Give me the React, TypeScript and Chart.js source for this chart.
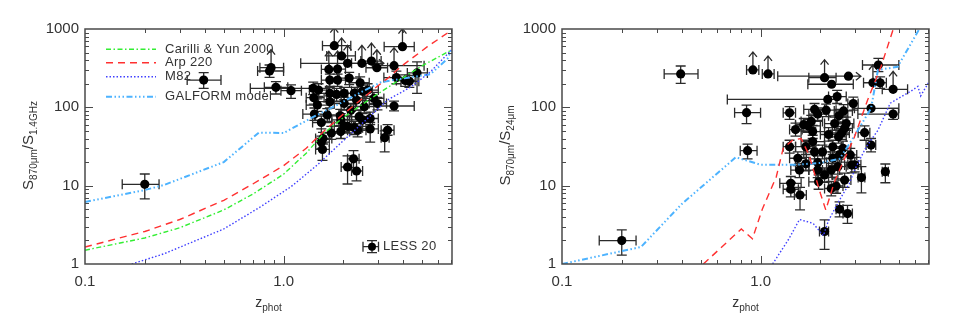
import React, { useEffect, useRef } from 'react';
import { Chart, registerables } from 'chart.js';

Chart.register(...registerables);

type XY = [number, number];
// [z, zLow, zHigh, ratio, ratioLow, ratioHigh]
type Pt = [number, number, number, number, number, number];

const FONT = '"Liberation Sans", Arial, Helvetica, sans-serif';
const INK = '#333333';

const X_MIN = 0.1;
const X_MAX = 7.05;
const Y_MIN = 1;
const Y_MAX = 1000;

// ---------- model tracks: S870/S1.4GHz ----------
const carilliRadio: XY[] = [
  [0.1, 1.5], [0.2, 2.15], [0.3, 2.9], [0.5, 4.9], [0.7, 7.8], [1.0, 14], [1.3, 26],
  [1.6, 47], [2.0, 74], [2.5, 110], [3.0, 150], [4.0, 240], [5.0, 340], [7.0, 540],
];
const arpRadio: XY[] = [
  [0.1, 1.65], [0.2, 2.6], [0.3, 3.7], [0.5, 6.5], [0.7, 10.5], [1.0, 18], [1.3, 30],
  [1.6, 50], [2.0, 82], [2.5, 130], [3.0, 190], [3.34, 234], [3.9, 331], [5.3, 595], [7.0, 960],
];
const m82Radio: XY[] = [
  [0.172, 1.0], [0.25, 1.35], [0.5, 2.8], [0.75, 5.2], [1.09, 9.7], [1.48, 18.4],
  [1.94, 35], [2.45, 60], [3.34, 124], [4.4, 184], [5.5, 285], [7.0, 540],
];
const galformRadio: XY[] = [
  [0.1, 6.2], [0.2, 8.8], [0.25, 10.2], [0.5, 20], [0.75, 47.5], [1.0, 47], [1.42, 76],
  [2.0, 118], [2.5, 160], [3.1, 210], [4.5, 245], [5.5, 265], [6.7, 420], [7.0, 540],
];

// ---------- model tracks: S870/S24 ----------
const arpMips: XY[] = [
  [0.515, 1.0], [0.8, 2.8], [0.91, 2.1], [1.02, 5], [1.2, 13], [1.3, 30], [1.45, 38],
  [1.6, 40], [1.75, 25], [2.0, 8], [2.13, 4.9], [2.35, 11], [2.6, 20], [2.95, 40],
  [3.46, 124], [4.04, 330], [4.7, 1070],
];
const m82Mips: XY[] = [
  [1.15, 1.0], [1.39, 2.1], [1.57, 3.7], [1.84, 3.3], [2.07, 2.3], [2.2, 3.6], [2.55, 7.2],
  [2.8, 10.7], [3.0, 16.6], [3.4, 31], [3.9, 51], [4.5, 113], [5.7, 160], [6.2, 185],
  [6.4, 140], [7.0, 205],
];
const galformMips: XY[] = [
  [0.1, 1.0], [0.25, 1.65], [0.4, 5.8], [0.75, 23], [0.85, 21], [1.0, 18.5], [1.5, 18.5],
  [2.0, 19.5], [2.5, 22], [2.95, 42], [3.6, 97], [3.9, 300], [4.9, 330], [6.4, 1070],
];

// ---------- LESS sources: S870/S1.4GHz ----------
const radioPts: Pt[] = [
  [0.20, 0.154, 0.236, 10.4, 6.8, 14.1],
  [0.396, 0.327, 0.484, 223, 175, 277],
  [0.85, 0.74, 1.0, 291, 241, 347],
  [0.865, 0.76, 1.0, 321, 321, 321],
  [0.915, 0.80, 1.05, 180, 148, 213],
  [1.09, 0.97, 1.23, 163, 130, 193],
  [1.80, 1.57, 2.18, 613, 613, 613],
  [3.97, 3.21, 4.55, 595, 595, 595],
  [1.96, 1.65, 2.3, 453, 453, 453],
  [2.1, 1.22, 3.2, 365, 365, 365],
  [2.48, 2.2, 2.8, 365, 365, 365],
  [2.77, 2.45, 3.1, 390, 390, 390],
  [2.95, 2.6, 3.34, 320, 320, 320],
  [3.6, 2.97, 5.1, 340, 340, 340],
  [1.69, 1.55, 1.85, 305, 305, 305],
  [1.87, 1.7, 2.05, 308, 308, 308],
  [1.71, 1.55, 1.9, 223, 185, 265],
  [1.87, 1.7, 2.05, 223, 185, 265],
  [2.14, 1.9, 2.4, 236, 195, 280],
  [2.43, 2.15, 2.7, 206, 170, 245],
  [4.7, 4.2, 5.3, 275, 151, 380],
  [4.1, 3.7, 4.6, 220, 185, 260],
  [4.3, 3.9, 4.8, 215, 180, 255],
  [3.7, 3.2, 4.3, 240, 200, 290],
  [1.41, 0.68, 1.7, 175, 145, 210],
  [1.5, 1.35, 1.65, 166, 138, 200],
  [1.42, 1.3, 1.6, 133, 110, 160],
  [1.71, 1.5, 1.95, 151, 125, 180],
  [1.85, 1.65, 2.1, 146, 120, 175],
  [2.02, 1.8, 2.3, 151, 125, 180],
  [2.27, 2.0, 2.55, 151, 125, 180],
  [2.5, 2.2, 2.8, 160, 132, 192],
  [2.65, 2.35, 3.0, 166, 138, 200],
  [1.71, 1.5, 1.95, 118, 98, 140],
  [3.6, 2.97, 4.55, 104, 90, 120],
  [2.97, 2.7, 3.3, 112, 93, 134],
  [2.85, 2.5, 3.2, 130, 108, 155],
  [1.43, 1.25, 1.65, 82, 68, 98],
  [1.66, 1.45, 1.9, 80, 66, 96],
  [1.93, 1.7, 2.2, 78, 64, 94],
  [2.4, 2.1, 2.7, 76, 62, 92],
  [2.5, 2.2, 2.8, 69, 57, 83],
  [2.73, 2.4, 3.0, 72, 60, 87],
  [1.55, 1.4, 1.75, 64, 53, 77],
  [2.02, 1.8, 2.25, 58, 48, 70],
  [2.1, 1.9, 2.3, 57, 47, 69],
  [2.27, 2.0, 2.5, 55, 45, 66],
  [2.36, 2.1, 2.6, 51, 42, 62],
  [2.73, 2.45, 3.0, 53, 36, 64],
  [3.34, 3.1, 3.6, 51, 44, 60],
  [3.23, 3.1, 3.4, 41, 27, 50],
  [1.74, 1.55, 1.95, 47, 39, 57],
  [1.94, 1.75, 2.15, 49, 40, 59],
  [1.58, 1.45, 1.75, 40, 34, 48],
  [1.55, 1.45, 1.7, 36, 30, 43],
  [1.57, 1.45, 1.7, 29, 21, 35],
  [2.25, 2.1, 2.4, 22, 17, 28],
  [2.1, 1.95, 2.2, 17.3, 10.5, 24],
  [2.33, 2.2, 2.5, 15.4, 11.5, 21],
  [1.94, 1.75, 2.15, 69, 57, 83],
  [2.18, 1.95, 2.45, 92, 76, 110],
  [2.33, 2.1, 2.6, 124, 103, 148],
  [2.55, 2.3, 2.85, 102, 85, 122],
  [2.02, 1.8, 2.25, 112, 93, 134],
  [1.48, 1.3, 1.7, 107, 89, 128],
];
const radioUp = [3, 6, 7, 8, 9, 10, 11, 12, 13, 14, 15];
const radioRight = [9];

// ---------- LESS sources: S870/S24 ----------
const mipsPts: Pt[] = [
  [0.20, 0.154, 0.236, 1.99, 1.30, 2.72],
  [0.396, 0.327, 0.484, 267, 202, 337],
  [0.915, 0.85, 0.98, 300, 300, 300],
  [1.09, 1.02, 1.17, 267, 267, 267],
  [0.85, 0.74, 1.0, 85.5, 62, 107],
  [0.86, 0.79, 0.96, 28, 22, 34],
  [2.1, 1.75, 2.4, 239, 239, 239],
  [2.77, 1.22, 3.2, 250, 250, 250],
  [2.28, 1.73, 2.93, 197, 197, 197],
  [3.92, 3.26, 4.97, 347, 285, 422],
  [3.68, 3.3, 4.0, 206, 206, 206],
  [4.0, 3.7, 4.3, 206, 175, 245],
  [4.65, 4.1, 5.5, 170, 170, 170],
  [4.65, 3.09, 4.95, 82, 70, 97],
  [3.6, 2.97, 4.97, 97, 97, 97],
  [3.6, 3.4, 3.8, 33, 27, 40],
  [4.25, 4.1, 4.4, 15.1, 10.9, 18.9],
  [3.34, 3.1, 3.55, 47.5, 38, 58],
  [3.22, 3.1, 3.35, 12.7, 8.1, 17.5],
  [2.93, 2.75, 3.1, 112, 92, 135],
  [2.43, 2.2, 2.7, 137, 112, 165],
  [2.18, 0.68, 2.4, 126, 126, 126],
  [2.14, 1.9, 2.4, 92, 76, 110],
  [1.87, 1.65, 2.1, 94, 78, 112],
  [1.94, 1.75, 2.2, 82, 68, 98],
  [2.62, 2.35, 2.9, 90, 75, 108],
  [2.48, 2.2, 2.75, 78, 64, 94],
  [2.36, 2.1, 2.6, 62, 51, 75],
  [2.65, 2.4, 2.9, 54, 45, 65],
  [2.56, 2.3, 2.8, 47, 39, 57],
  [2.47, 2.2, 2.7, 42, 35, 51],
  [1.40, 1.3, 1.5, 85, 70, 102],
  [1.5, 1.4, 1.62, 52, 43, 63],
  [1.4, 1.3, 1.5, 31.5, 26, 38],
  [1.73, 1.5, 2.0, 58, 48, 70],
  [1.8, 1.6, 2.05, 66, 55, 79],
  [1.83, 1.6, 2.1, 49, 40, 59],
  [1.83, 1.6, 2.1, 36.5, 30, 44],
  [1.87, 1.65, 2.1, 27, 22, 33],
  [1.54, 1.4, 1.7, 22.4, 18, 27],
  [1.57, 1.42, 1.75, 15.8, 12.7, 19.3],
  [1.69, 1.5, 1.9, 19, 15.5, 23],
  [1.94, 1.75, 2.15, 19.7, 16, 24],
  [2.1, 1.9, 2.3, 13.7, 11, 16.8],
  [1.96, 1.75, 2.2, 11.2, 9, 13.7],
  [2.27, 2.05, 2.5, 15.8, 12.8, 19.3],
  [2.31, 2.1, 2.55, 22.4, 18, 27],
  [2.45, 2.2, 2.7, 17.5, 14, 21.5],
  [2.65, 2.45, 2.85, 11.8, 9.5, 14.5],
  [2.4, 2.2, 2.6, 9.9, 8, 12.2],
  [2.27, 2.1, 2.45, 9.2, 7.4, 11.3],
  [1.42, 1.25, 1.6, 10.7, 8.6, 13.1],
  [1.42, 1.3, 1.55, 9.0, 7.2, 11],
  [1.58, 1.48, 1.7, 7.6, 4.9, 9.5],
  [2.5, 2.4, 2.6, 5.0, 4.0, 6.2],
  [2.74, 2.6, 2.9, 4.4, 3.3, 5.6],
  [2.1, 1.98, 2.2, 2.6, 1.54, 3.65],
  [2.88, 2.65, 3.1, 18.3, 14.6, 22.6],
  [2.83, 2.6, 3.05, 24.7, 19.8, 30],
  [2.6, 2.35, 2.85, 30, 24, 37],
  [2.31, 2.1, 2.55, 31.4, 25, 38],
  [1.69, 1.5, 1.9, 31.5, 25, 38],
  [1.94, 1.75, 2.15, 15.8, 12.7, 19.3],
  [2.05, 1.85, 2.25, 27, 22, 33],
  [2.5, 2.25, 2.75, 25, 20, 31],
  [1.65, 1.5, 1.85, 60, 50, 72],
  [2.2, 2.0, 2.45, 45, 37, 55],
  [2.7, 2.45, 2.95, 62, 51, 75],
  [2.98, 2.75, 3.2, 18.5, 15, 23],
];
const mipsUp = [2, 3, 6, 10, 12];
const mipsRight = [7];

// ---------- legend / labels ----------
const legendLabels = ['Carilli & Yun 2000', 'Arp 220', 'M82', 'GALFORM model'];
const sampleLabel = 'LESS 20';
const xTitle: [string, boolean][] = [['z', false], ['phot', true]];
const yTitleRadio: [string, boolean][] = [['S', false], ['870μm', true], ['/', false], ['S', false], ['1.4GHz', true]];
const yTitleMips: [string, boolean][] = [['S', false], ['870μm', true], ['/', false], ['S', false], ['24μm', true]];

const STYLE = {
  carilli: { color: '#33ee33', dash: [5, 2.5, 1.5, 2.5], width: 1.4 },
  arp: { color: '#ff3030', dash: [7, 5], width: 1.4 },
  m82: { color: '#4040ff', dash: [1.5, 2], width: 1.4 },
  galform: { color: '#4db3ff', dash: [6, 2.5, 1.5, 2.5, 1.5, 2.5, 1.5, 2.5], width: 2 },
};

function logTickValues(min: number, max: number): [number, boolean][] {
  const out: [number, boolean][] = [];
  for (let d = Math.floor(Math.log10(min)); d <= Math.ceil(Math.log10(max)); d++) {
    for (let m = 1; m <= 9; m++) {
      const v = m * Math.pow(10, d);
      if (v > min * 1.0001 && v < max * 0.9999) out.push([v, m === 1]);
    }
  }
  return out;
}

function partsWidth(ctx: CanvasRenderingContext2D, parts: [string, boolean][], big: number, small: number) {
  let w = 0;
  for (const [t, sub] of parts) {
    ctx.font = `${sub ? small : big}px ${FONT}`;
    w += ctx.measureText(t).width;
  }
  return w;
}

function drawParts(ctx: CanvasRenderingContext2D, parts: [string, boolean][], x0: number, big: number, small: number) {
  let x = x0;
  for (const [t, sub] of parts) {
    ctx.font = `${sub ? small : big}px ${FONT}`;
    ctx.fillText(t, x, sub ? 4 : 0);
    x += ctx.measureText(t).width;
  }
}

function framePlugin(yTitle: [string, boolean][], withLegend: boolean) {
  return {
    id: 'frameAndText',
    afterDraw(chart: any) {
      const { ctx, chartArea: a, scales } = chart;
      const xs = scales.x;
      const ys = scales.y;
      ctx.save();
      ctx.strokeStyle = '#4a4a4a';
      ctx.lineWidth = 1;
      ctx.beginPath();
      for (const [v, major] of logTickValues(X_MIN, X_MAX)) {
        const px = Math.round(xs.getPixelForValue(v)) + 0.5;
        const L = major ? 8 : 4;
        ctx.moveTo(px, a.bottom); ctx.lineTo(px, a.bottom - L);
        ctx.moveTo(px, a.top); ctx.lineTo(px, a.top + L);
      }
      for (const [v, major] of logTickValues(Y_MIN, Y_MAX)) {
        const py = Math.round(ys.getPixelForValue(v)) + 0.5;
        const L = major ? 8 : 4;
        ctx.moveTo(a.left, py); ctx.lineTo(a.left + L, py);
        ctx.moveTo(a.right, py); ctx.lineTo(a.right - L, py);
      }
      ctx.stroke();
      ctx.lineWidth = 1.5;
      ctx.strokeRect(a.left, a.top, a.right - a.left, a.bottom - a.top);

      // axis titles
      ctx.fillStyle = INK;
      ctx.textBaseline = 'alphabetic';
      ctx.textAlign = 'left';
      const cx = (a.left + a.right) / 2;
      const wx = partsWidth(ctx, xTitle, 14, 10);
      ctx.save();
      ctx.translate(cx, 306.5);
      drawParts(ctx, xTitle, -wx / 2, 14, 10);
      ctx.restore();

      const wy = partsWidth(ctx, yTitle, 15, 10);
      ctx.save();
      ctx.translate(33.3, (a.top + a.bottom) / 2 - 1);
      ctx.rotate(-Math.PI / 2);
      drawParts(ctx, yTitle, -wy / 2, 15, 10);
      ctx.restore();

      if (withLegend) {
        const styles = [STYLE.carilli, STYLE.arp, STYLE.m82, STYLE.galform];
        const rows = [49.3, 62.7, 76.7, 96.7];
        styles.forEach((s, i) => {
          ctx.save();
          ctx.strokeStyle = s.color;
          ctx.lineWidth = s.width;
          ctx.setLineDash(s.dash);
          ctx.beginPath();
          ctx.moveTo(106, rows[i]);
          ctx.lineTo(156, rows[i]);
          ctx.stroke();
          ctx.restore();
          ctx.font = `13px ${FONT}`;
          (ctx as any).letterSpacing = '0.3px';
          ctx.textBaseline = 'middle';
          ctx.fillStyle = INK;
          ctx.fillText(legendLabels[i], 165, rows[i]);
        });
        // LESS symbol
        const sx = 372, sy = 246.7;
        ctx.strokeStyle = '#2b2b2b';
        ctx.lineWidth = 1.3;
        ctx.beginPath();
        ctx.moveTo(363, sy); ctx.lineTo(378.5, sy);
        ctx.moveTo(363, sy - 5); ctx.lineTo(363, sy + 5);
        ctx.moveTo(378.5, sy - 5); ctx.lineTo(378.5, sy + 5);
        ctx.moveTo(sx, 240.7); ctx.lineTo(sx, 252.7);
        ctx.moveTo(sx - 5, 240.7); ctx.lineTo(sx + 5, 240.7);
        ctx.moveTo(sx - 5, 252.7); ctx.lineTo(sx + 5, 252.7);
        ctx.stroke();
        ctx.fillStyle = '#000';
        ctx.beginPath();
        ctx.arc(sx, sy, 4, 0, Math.PI * 2);
        ctx.fill();
        ctx.fillStyle = INK;
        ctx.font = `13px ${FONT}`;
        ctx.textBaseline = 'middle';
        ctx.fillText(sampleLabel, 383, sy);
      }
      ctx.restore();
    },
  };
}

function errorPlugin(pts: Pt[], up: number[], right: number[]) {
  return {
    id: 'errorBars',
    beforeDatasetsDraw(chart: any) {
      const { ctx, chartArea: a, scales } = chart;
      const xs = scales.x;
      const ys = scales.y;
      ctx.save();
      ctx.beginPath();
      ctx.rect(a.left, a.top, a.right - a.left, a.bottom - a.top);
      ctx.clip();
      ctx.strokeStyle = '#2b2b2b';
      ctx.lineWidth = 1.3;
      pts.forEach((p, i) => {
        const cx = xs.getPixelForValue(p[0]);
        const cy = ys.getPixelForValue(p[3]);
        const xl = xs.getPixelForValue(p[1]);
        const xh = xs.getPixelForValue(p[2]);
        ctx.beginPath();
        ctx.moveTo(xl, cy); ctx.lineTo(xh, cy);
        ctx.moveTo(xl, cy - 5); ctx.lineTo(xl, cy + 5);
        if (right.includes(i)) {
          ctx.moveTo(xh - 5, cy - 4); ctx.lineTo(xh, cy); ctx.lineTo(xh - 5, cy + 4);
        } else {
          ctx.moveTo(xh, cy - 5); ctx.lineTo(xh, cy + 5);
        }
        if (p[4] !== p[5]) {
          const yl = ys.getPixelForValue(p[4]);
          const yh = ys.getPixelForValue(p[5]);
          ctx.moveTo(cx, yl); ctx.lineTo(cx, yh);
          ctx.moveTo(cx - 5, yl); ctx.lineTo(cx + 5, yl);
          ctx.moveTo(cx - 5, yh); ctx.lineTo(cx + 5, yh);
        }
        if (up.includes(i)) {
          ctx.moveTo(cx, cy); ctx.lineTo(cx, cy - 18);
          ctx.moveTo(cx - 4, cy - 13); ctx.lineTo(cx, cy - 18); ctx.lineTo(cx + 4, cy - 13);
        }
        ctx.stroke();
      });
      ctx.restore();
    },
  };
}

function lineSet(data: XY[], s: { color: string; dash: number[]; width: number }) {
  return {
    data: data.map(([x, y]) => ({ x, y })),
    showLine: true,
    pointRadius: 0,
    borderColor: s.color,
    borderWidth: s.width,
    borderDash: s.dash,
    fill: false,
    tension: 0,
    order: 0,
  };
}

function isDecade(v: number) {
  const l = Math.log10(v);
  return Math.abs(l - Math.round(l)) < 1e-6;
}

interface PanelProps {
  lines: any[];
  pts: Pt[];
  up: number[];
  right: number[];
  yTitle: [string, boolean][];
  legend: boolean;
}

function Panel({ lines, pts, up, right, yTitle, legend }: PanelProps) {
  const ref = useRef<HTMLCanvasElement>(null);
  useEffect(() => {
    const chart = new Chart(ref.current as HTMLCanvasElement, {
      type: 'scatter',
      data: {
        datasets: [
          ...lines,
          {
            data: pts.map((p) => ({ x: p[0], y: p[3] })),
            showLine: false,
            pointRadius: 4.6,
            pointBackgroundColor: '#000',
            pointBorderWidth: 0,
            order: 1,
          },
        ],
      } as any,
      options: {
        responsive: false,
        animation: false,
        events: [],
        layout: { padding: { top: 29, right: 25, left: 0, bottom: 0 } },
        plugins: { legend: { display: false }, tooltip: { enabled: false } },
        scales: {
          x: {
            type: 'logarithmic',
            min: X_MIN,
            max: X_MAX,
            grid: { display: false, drawTicks: false },
            border: { display: false },
            ticks: {
              autoSkip: false,
              maxRotation: 0,
              padding: 9,
              color: INK,
              font: { family: FONT, size: 15 },
              callback: (v: any) => {
                const n = Number(v);
                if (!isDecade(n)) return '';
                const d = Math.round(Math.log10(n));
                return d < 0 ? n.toFixed(-d) : d === 0 ? '1.0' : String(Math.round(n));
              },
            },
            afterFit: (s: any) => { s.height = 54; },
          },
          y: {
            type: 'logarithmic',
            min: Y_MIN,
            max: Y_MAX,
            grid: { display: false, drawTicks: false },
            border: { display: false },
            ticks: {
              autoSkip: false,
              padding: 6,
              color: INK,
              font: { family: FONT, size: 15 },
              callback: (v: any) => {
                const n = Number(v);
                return isDecade(n) ? String(Math.round(n)) : '';
              },
            },
            afterFit: (s: any) => { s.width = 85; },
          },
        },
      } as any,
      plugins: [errorPlugin(pts, up, right), framePlugin(yTitle, legend)],
    });
    return () => chart.destroy();
  }, []);
  return <canvas ref={ref} width={477} height={318} style={{ display: 'block', width: 477, height: 318 }} />;
}

export default function App() {
  return (
    <div style={{ position: 'absolute', left: 0, top: 0, width: 954, height: 318, display: 'flex', background: '#fff' }}>
      <Panel
        lines={[
          lineSet(carilliRadio, STYLE.carilli),
          lineSet(arpRadio, STYLE.arp),
          lineSet(m82Radio, STYLE.m82),
          lineSet(galformRadio, STYLE.galform),
        ]}
        pts={radioPts}
        up={radioUp}
        right={radioRight}
        yTitle={yTitleRadio}
        legend={true}
      />
      <Panel
        lines={[
          lineSet(arpMips, STYLE.arp),
          lineSet(m82Mips, STYLE.m82),
          lineSet(galformMips, STYLE.galform),
        ]}
        pts={mipsPts}
        up={mipsUp}
        right={mipsRight}
        yTitle={yTitleMips}
        legend={false}
      />
    </div>
  );
}
